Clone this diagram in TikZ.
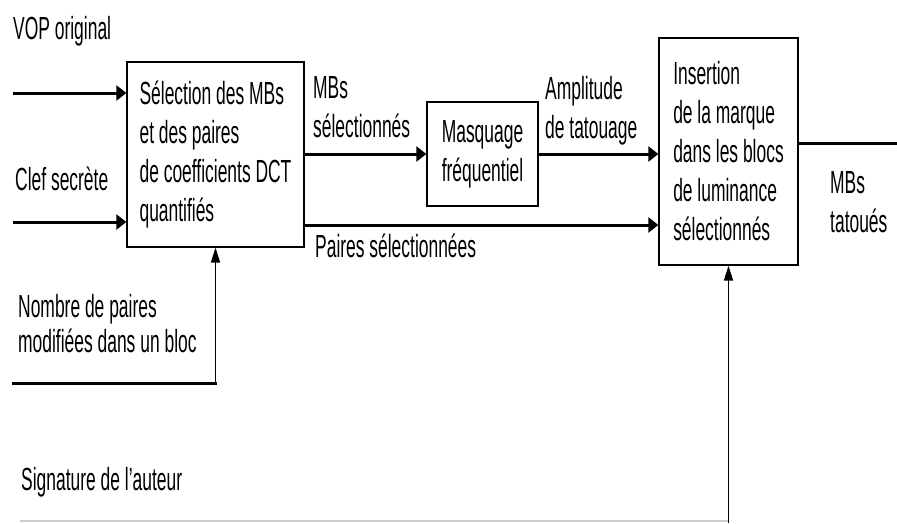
\documentclass[tikz,border=0pt]{standalone}
\usepackage{fontspec}
\setmainfont{Liberation Sans}[FakeStretch=0.545]
\usepackage{tikz}
\usetikzlibrary{arrows.meta}
\newcommand\lbfont{\fontsize{32}{39}\selectfont}

\begin{document}
\begin{tikzpicture}[x=1pt,y=-1pt,
  bloc/.style={draw,line width=1.3pt,align=left,font=\lbfont,inner sep=0pt},
  lbl/.style={anchor=base west,inner sep=0pt,align=left,font=\lbfont},
  harr/.style={line width=3pt,-{Triangle[length=10pt,width=15pt]}},
  varr/.style={line width=1.8pt,-{Triangle[length=15pt,width=9pt]}},
  hline/.style={line width=3pt,line cap=rect}]
 \useasboundingbox (0,0) rectangle (897,523);
 \node[bloc,minimum width=177pt,minimum height=185pt] (sel) at (215.5,154.5) {Sélection des MBs\\et des paires\\de coefficients DCT\\quantifiés};
 \node[bloc,minimum width=111pt,minimum height=104pt] (masq) at (482.5,154) {Masquage\\fréquentiel};
 \node[bloc,minimum width=139pt,minimum height=227pt] (ins) at (728.5,151.5) {Insertion\\de la marque\\dans les blocs\\de luminance\\sélectionnés};
 \node[lbl] (vopl) at (13,39) {VOP original};
 \node[lbl] (clefl) at (15,190) {Clef secrète};
 \node[lbl] (mbsl) at (313,137) {MBs\\sélectionnés};
 \node[lbl] (pairesl) at (315,257) {Paires sélectionnées};
 \node[lbl] (ampl) at (545,138) {Amplitude\\de tatouage};
 \node[lbl] (tatl) at (830,232) {MBs\\tatoués};
 \node[lbl,font=\fontsize{32}{35}\selectfont] (nbl) at (18,352) {Nombre de paires\\modifiées dans un bloc};
 \node[lbl] (sigl) at (21,490) {Signature de l'auteur};
 \coordinate (vop) at (13,93);
 \coordinate (clef) at (13,222);
 \coordinate (pp) at (304,225);
 \coordinate (out) at (897,143);
 \coordinate (nb) at (13,383);
 \coordinate (sig) at (20,521);
 \coordinate (sigb) at (728.5,523);
 \draw[harr] (vop) -- (vop -| sel.west);
 \draw[harr] (clef) -- (clef -| sel.west);
 \draw[harr] (sel.east |- masq.west) -- (masq.west);
 \draw[harr] (masq.east) -- (masq.east -| ins.west);
 \draw[harr] (pp) -- (pp -| ins.west);
 \draw[hline] (out -| ins.east) -- (out);
 \draw[hline] (nb) -- (nb -| sel.south);
 \draw[varr] (nb -| sel.south) -- (sel.south);
 \draw[gray!40,line width=2pt] (sig) -- (sig -| ins.south);
 \draw[varr] (sigb) -- (ins.south);
\end{tikzpicture}
\end{document}
